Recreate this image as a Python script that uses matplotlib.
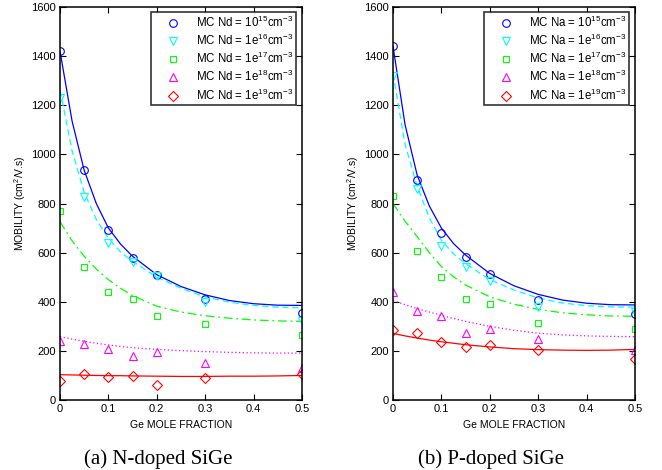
"""Electron / hole mobility vs Ge mole fraction in doped SiGe (MC data + fits)."""

import matplotlib

matplotlib.use("Agg")
import numpy as np
from matplotlib import pyplot as plt

plt.rcParams["font.family"] = ["Liberation Sans", "DejaVu Sans"]
plt.rcParams["mathtext.fontset"] = "custom"
plt.rcParams["mathtext.rm"] = "Liberation Sans"
plt.rcParams["mathtext.it"] = "Liberation Sans:italic"

# Monte Carlo points
x_mc = [0, 0.05, 0.1, 0.15, 0.2, 0.3, 0.5]
n_mc = {
    "1e15": [1421, 936, 694, 579, 510, 411, 353],
    "1e16": [1230, 827, 641, 563, 504, 400, 321],
    "1e17": [769, 541, 441, 412, 342, 311, 264],
    "1e18": [239, 229, 206, 180, 194, 150, 130],
    "1e19": [77, 106, 92, 98, 61, 91, 106],
}
p_mc = {
    "1e15": [1441, 895, 681, 584, 515, 407, 350],
    "1e16": [1318, 858, 625, 542, 484, 380, 357],
    "1e17": [830, 606, 499, 411, 389, 312, 290],
    "1e18": [441, 362, 342, 273, 290, 248, 205],
    "1e19": [287, 274, 236, 217, 224, 203, 168],
}

# fitted curves
x_fit = [0, 0.025, 0.05, 0.075, 0.1, 0.125, 0.15, 0.2, 0.25, 0.3, 0.35, 0.4, 0.45, 0.5]
n_fit = {
    "1e15": [1420, 1135, 935, 800, 700, 635, 585, 510, 462, 428, 405, 392, 386, 385],
    "1e16": [1262, 1015, 845, 735, 658, 603, 565, 500, 455, 420, 398, 385, 378, 375],
    "1e17": [726, 648, 585, 533, 490, 455, 425, 382, 358, 343, 333, 326, 322, 320],
    "1e18": [258, 248, 239, 231, 224, 218, 213, 206, 201, 197, 194, 192, 191, 191],
    "1e19": [103, 102, 101, 100, 99, 99, 98, 97, 96, 96, 97, 97, 98, 100],
}
p_fit = {
    "1e15": [1440, 1120, 915, 790, 700, 637, 590, 515, 465, 430, 407, 394, 388, 387],
    "1e16": [1330, 1040, 870, 742, 650, 595, 555, 490, 448, 415, 395, 384, 379, 378],
    "1e17": [800, 728, 665, 600, 543, 502, 468, 420, 390, 369, 355, 347, 342, 341],
    "1e18": [405, 388, 372, 358, 345, 332, 320, 300, 284, 272, 265, 261, 259, 258],
    "1e19": [271, 261, 252, 244, 237, 231, 225, 216, 209, 205, 203, 202, 203, 206],
}

doping = ["1e15", "1e16", "1e17", "1e18", "1e19"]
dop_text = ["10$^{15}$", "1e$^{16}$", "1e$^{17}$", "1e$^{18}$", "1e$^{19}$"]
colors = ["#0000ff", "#00ffff", "#00ff00", "#ff00ff", "#ff0000"]
markers = ["o", "v", "s", "^", "D"]
msizes = [5.5, 5.8, 5, 5.8, 4.6]
styles = ["-", (0, (5, 3)), (0, (7, 3, 1.5, 3)), (0, (1, 2)), "-"]


def draw_panel(ax, mc, fit, dop_name):
    for i, key in enumerate(doping):
        ax.plot(x_fit, fit[key], color=colors[i], linestyle=styles[i], lw=0.9)
    handles = []
    for i, key in enumerate(doping):
        (h,) = ax.plot(x_mc, mc[key], linestyle="none", marker=markers[i],
                       ms=msizes[i], mfc="none", mec=colors[i], mew=0.8,
                       label=f"MC {dop_name} = {dop_text[i]}cm$^{{-3}}$")
        handles.append(h)
    ax.set_xlim(0, 0.5)
    ax.set_ylim(0, 1600)
    ax.set_xticks(np.arange(0, 0.51, 0.1))
    ax.set_xticklabels(["0", "0.1", "0.2", "0.3", "0.4", "0.5"])
    ax.set_yticks(np.arange(0, 1601, 200))
    ax.tick_params(direction="in", top=True, right=True, length=4, width=0.8,
                   labelsize=8, pad=3)
    for sp in ax.spines.values():
        sp.set_linewidth(1.1)
    ax.set_xlabel("Ge MOLE FRACTION", fontsize=7.5, labelpad=4)
    ax.set_ylabel("MOBILITY (cm$^2$/V.s)", fontsize=7.5, labelpad=2)
    leg = ax.legend(handles=handles, loc="upper right", bbox_to_anchor=(0.977, 0.988),
                    fontsize=8.3, frameon=True, fancybox=False, handlelength=3.4,
                    handletextpad=0.3, borderpad=0.25, labelspacing=0.26,
                    borderaxespad=0)
    leg.get_frame().set_edgecolor("black")
    leg.get_frame().set_linewidth(1.2)


fig = plt.figure(figsize=(6.62, 4.70), dpi=100)
ax_n = fig.add_axes([60 / 662, 70 / 470, 242 / 662, 393 / 470])
ax_p = fig.add_axes([393 / 662, 70 / 470, 242 / 662, 393 / 470])

draw_panel(ax_n, n_mc, n_fit, "Nd")
draw_panel(ax_p, p_mc, p_fit, "Na")

fig.text(158 / 662, 11 / 470, "(a) N-doped SiGe", family="Liberation Serif",
         fontsize=15, ha="center", va="center")
fig.text(491 / 662, 11 / 470, "(b) P-doped SiGe", family="Liberation Serif",
         fontsize=15, ha="center", va="center")

fig.savefig("out.png", dpi=100)
plt.close(fig)
